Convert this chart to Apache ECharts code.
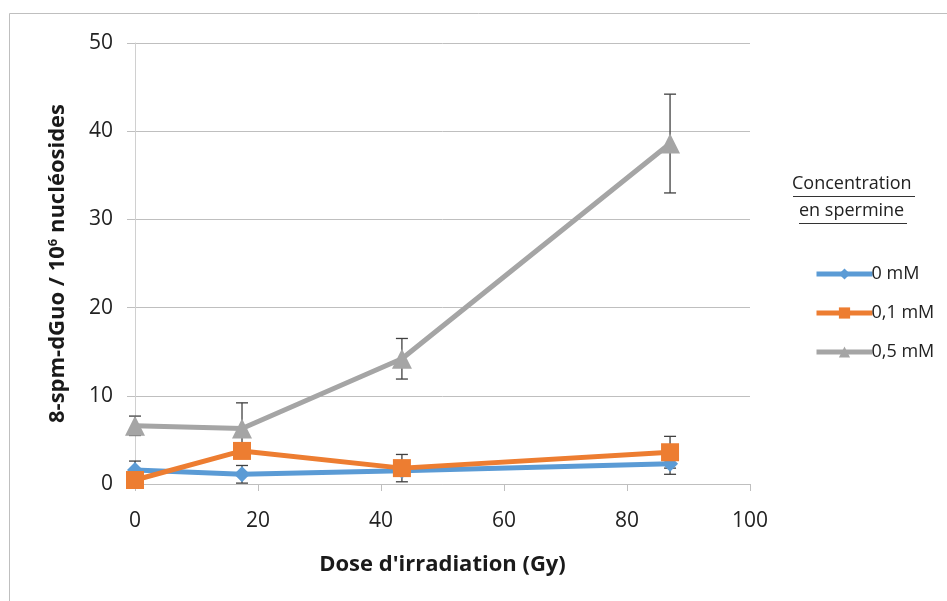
<!DOCTYPE html>
<html><head><meta charset="utf-8">
<script src="https://cdn.jsdelivr.net/npm/echarts@6/dist/echarts.min.js"></script>
<style>html,body{margin:0;padding:0;background:#fff}#c{width:947px;height:601px}</style>
</head><body><div id="c"></div>
<script>
const doses = [0, 17.4, 43.4, 87];
const seriesNames = ['0 mM', '0,1 mM', '0,5 mM'];
const vals0 = [1.6, 1.1, 1.5, 2.3];
const vals01 = [0.45, 3.75, 1.8, 3.6];
const vals05 = [6.6, 6.3, 14.2, 38.6];
const err0 = [1.0, 1.0, 0.4, 1.2];
const err01 = [0.3, 0.8, 1.55, 1.8];
const err05 = [1.1, 2.9, 2.3, 5.6];
const xTicks = [0, 20, 40, 60, 80, 100];
const yTicks = [0, 10, 20, 30, 40, 50];

const FONT = '"Open Sans", "Noto Sans", sans-serif';
const colors = ['#5B9BD5', '#ED7D31', '#A5A5A5'];
const symbols = ['diamond', 'rect', 'triangle'];
const symSizes = [16, 18, 20];
const allVals = [vals0, vals01, vals05];
const allErr = [err0, err01, err05];

const chart = echarts.init(document.getElementById('c'));
const series = [];
allVals.forEach((v, i) => {
  series.push({
    name: seriesNames[i], type: 'line', z: 3 + i,
    data: doses.map((d, k) => [d, v[k]]),
    symbol: symbols[i], symbolSize: symSizes[i], showAllSymbol: true,
    lineStyle: { color: colors[i], width: 5 },
    itemStyle: { color: colors[i] },
    emphasis: { disabled: true }, animation: false
  });
});
allVals.forEach((v, i) => {
  series.push({
    type: 'custom', z: 2 + i, silent: true, animation: false,
    data: doses.map((d, k) => [d, v[k] - allErr[i][k], v[k] + allErr[i][k]]),
    renderItem: function (params, api) {
      const lo = api.coord([api.value(0), api.value(1)]);
      const hi = api.coord([api.value(0), api.value(2)]);
      const w = 6;
      const st = { stroke: '#404040', lineWidth: 1.3 };
      return { type: 'group', children: [
        { type: 'line', shape: { x1: hi[0], y1: hi[1], x2: lo[0], y2: lo[1] }, style: st },
        { type: 'line', shape: { x1: hi[0] - w, y1: hi[1], x2: hi[0] + w, y2: hi[1] }, style: st },
        { type: 'line', shape: { x1: lo[0] - w, y1: lo[1], x2: lo[0] + w, y2: lo[1] }, style: st }
      ]};
    }
  });
});

chart.setOption({
  animation: false,
  backgroundColor: '#fff',
  grid: { left: 135, top: 43, right: 197, bottom: 117 },
  xAxis: {
    type: 'value', min: 0, max: 100, interval: 20,
    name: "Dose d'irradiation (Gy)", nameLocation: 'middle', nameGap: 70,
    nameTextStyle: { fontFamily: FONT, fontSize: 22, fontWeight: 'bold', color: '#1a1a1a' },
    axisLine: { show: true, lineStyle: { color: '#bfbfbf', width: 1 } },
    axisTick: { show: true, length: 7, lineStyle: { color: '#bfbfbf' } },
    axisLabel: { margin: 27, fontFamily: FONT, fontSize: 21, color: '#222',
      formatter: v => xTicks.includes(v) ? String(v) : '' },
    splitLine: { show: false }
  },
  yAxis: {
    type: 'value', min: 0, max: 50, interval: 10,
    name: '8-spm-dGuo / 10{s|6} nucléosides', nameLocation: 'middle', nameGap: 66, nameRotate: 90,
    nameTextStyle: { fontFamily: FONT, fontSize: 22, fontWeight: 'bold', color: '#1a1a1a',
      rich: { s: { fontFamily: FONT, fontSize: 13, fontWeight: 'bold', color: '#1a1a1a', verticalAlign: 'top', padding: [0, 0, 9, 0] } } },
    axisLine: { show: true, lineStyle: { color: '#d0d0d0', width: 1 } },
    axisTick: { show: true, length: 8, lineStyle: { color: '#bfbfbf' } },
    axisLabel: { margin: 22, fontFamily: FONT, fontSize: 21, color: '#222',
      formatter: v => yTicks.includes(v) ? String(v) : '' },
    splitLine: { show: true, lineStyle: { color: '#bfbfbf', width: 1 } }
  },
  legend: {
    data: seriesNames, orient: 'vertical', left: 809, top: 260,
    itemWidth: 56, itemHeight: 14, itemGap: 21,
    lineStyle: { width: 5 },
    textStyle: { fontFamily: FONT, fontSize: 18, color: '#222', padding: [0, 0, 0, -6] },
    selectedMode: false
  },
  graphic: [
    { type: 'rect', shape: { x: 9.5, y: 13.5, width: 1000, height: 700 },
      style: { fill: 'none', stroke: '#bfbfbf', lineWidth: 1 }, silent: true },
    { type: 'text', left: 792, top: 175, style: { text: 'Concentration', fontFamily: FONT, fontSize: 18, fill: '#222' } },
    { type: 'line', shape: { x1: 793, y1: 196.5, x2: 915, y2: 196.5 }, style: { stroke: '#333', lineWidth: 1 } },
    { type: 'text', left: 799, top: 202, style: { text: 'en spermine', fontFamily: FONT, fontSize: 18, fill: '#222' } },
    { type: 'line', shape: { x1: 799, y1: 223.5, x2: 907, y2: 223.5 }, style: { stroke: '#333', lineWidth: 1 } }
  ],
  series: series
});
</script></body></html>
